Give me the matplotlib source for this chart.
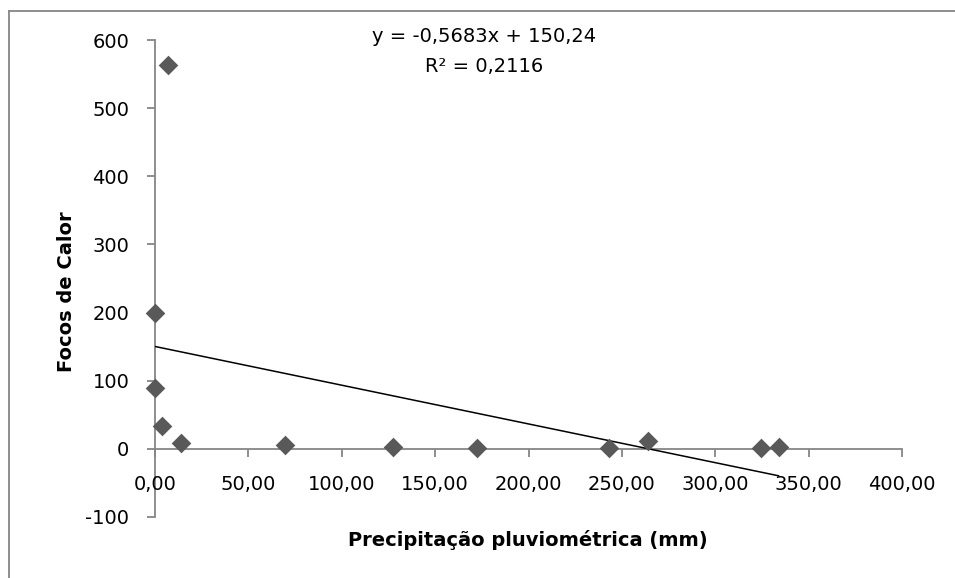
import matplotlib
matplotlib.use("Agg")
import matplotlib.pyplot as plt
from matplotlib.lines import Line2D
import numpy as np

# Data
precip = [7.1, 0.0, 0.0, 3.9, 13.9, 69.8, 127.3, 172.5, 243.3, 263.9, 324.6, 333.9]
focos = [564, 200, 90, 34, 9, 6, 3, 1, 1, 11, 1, 3]
slope = -0.5683
intercept = 150.24
eq_text = "y = -0,5683x + 150,24"
r2_text = "R² = 0,2116"
x_ticks = [0, 50, 100, 150, 200, 250, 300, 350, 400]
x_ticklabels = ["0,00", "50,00", "100,00", "150,00", "200,00", "250,00", "300,00", "350,00", "400,00"]
y_ticks = [-100, 0, 100, 200, 300, 400, 500, 600]
y_ticklabels = ["-100", "0", "100", "200", "300", "400", "500", "600"]

plt.rcParams['font.family'] = ['DejaVu Sans']

fig = plt.figure(figsize=(9.55, 5.78), dpi=100)
ax = fig.add_axes([155/955, 61/578, 747/955, 477/578])

gray = '#868686'
ax.set_xlim(0, 400)
ax.set_ylim(-100, 600)

for s in ['top', 'right']:
    ax.spines[s].set_visible(False)
ax.spines['bottom'].set_position(('data', 0))
ax.spines['left'].set_position(('data', 0))
for s in ['bottom', 'left']:
    ax.spines[s].set_color(gray)
    ax.spines[s].set_linewidth(1.3)
    ax.spines[s].set_zorder(1)

ax.set_xticks(x_ticks)
ax.set_xticklabels(x_ticklabels)
ax.set_yticks(y_ticks)
ax.set_yticklabels(y_ticklabels)
ax.tick_params(axis='both', direction='out', length=5.5, width=1.3, color=gray,
               labelsize=14, labelcolor='black')
ax.tick_params(axis='y', pad=13)
ax.tick_params(axis='x', pad=13)

xs = np.array([0, max(precip)])
ax.plot(xs, intercept + slope * xs, color='black', lw=1.1, zorder=3)
ax.scatter(precip, focos, marker='D', s=100, color='#595959', zorder=4,
           clip_on=False, linewidths=0)

fig.text(484/955, 1 - 37/578, eq_text, ha='center', va='center', fontsize=14)
fig.text(484/955, 1 - 67/578, r2_text, ha='center', va='center', fontsize=14)
fig.text(528/955, 1 - 540/578, "Precipitação pluviométrica (mm)", ha='center', va='center',
         fontsize=14, fontweight='bold')
fig.text(66/955, 1 - 292/578, "Focos de Calor", ha='center', va='center', rotation=90,
         fontsize=14, fontweight='bold')

# outer frame (left and top)
fig.add_artist(Line2D([8.5/955, 8.5/955], [0, 1 - 10.5/578], transform=fig.transFigure,
                      color=gray, lw=1.3))
fig.add_artist(Line2D([8.5/955, 1], [1 - 10.5/578, 1 - 10.5/578], transform=fig.transFigure,
                      color=gray, lw=1.3))

fig.savefig("out.png", dpi=100)
